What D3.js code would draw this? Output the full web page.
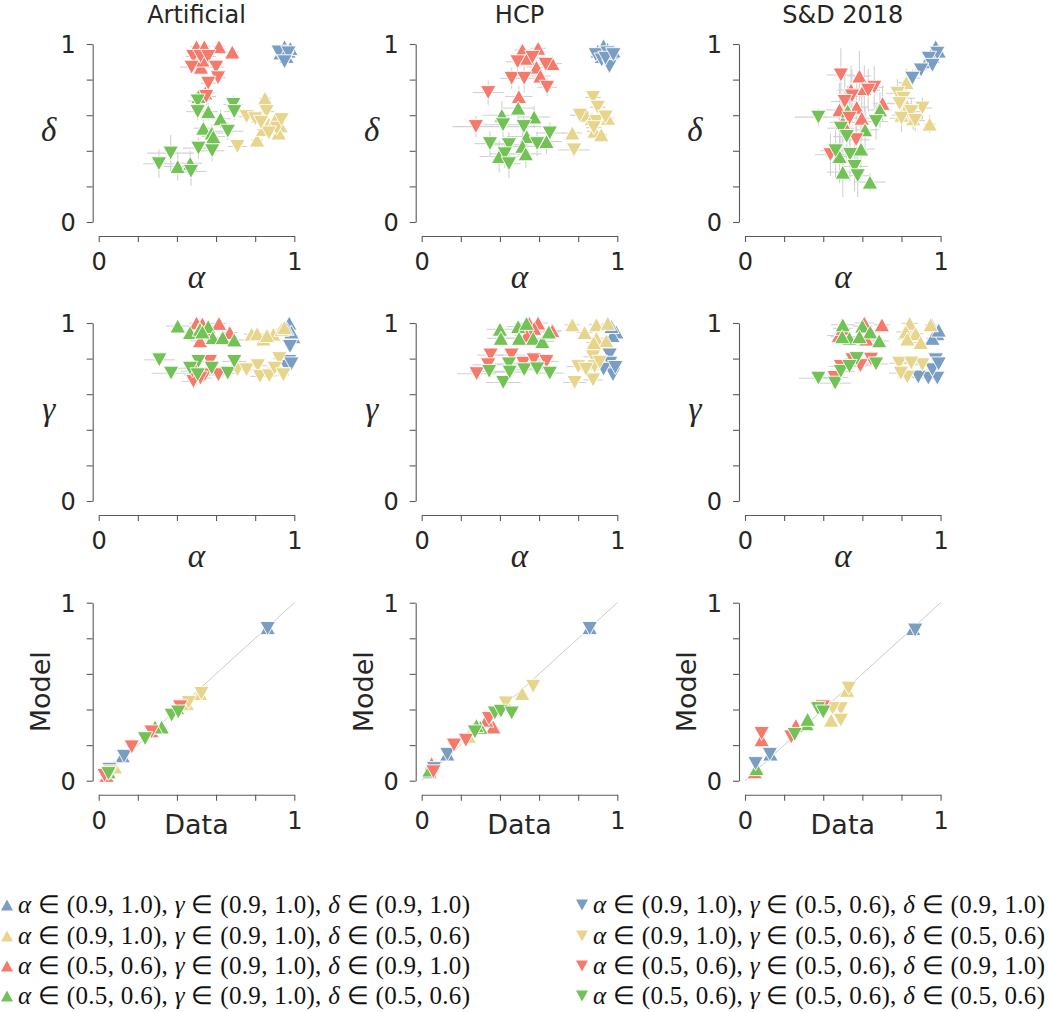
<!DOCTYPE html>
<html><head><meta charset="utf-8">
<script src="https://cdn.jsdelivr.net/npm/d3@7"></script>
<style>body{margin:0;background:#fff}</style>
</head><body>
<script>
// ---------- data ----------
const columnTitles = ["Artificial", "HCP", "S&D 2018"];
const rowXLabels = ["α", "α", "Data"];
const rowYLabels = ["δ", "γ", "Model"];
const tickValues = [0, 0.2, 0.4, 0.6, 0.8, 1];
const tickLabels = ["0", "", "", "", "", "1"];
// groups: 0 blue▲ 1 yellow▲ 2 red▲ 3 green▲ 4 blue▼ 5 yellow▼ 6 red▼ 7 green▼
const groupColors = ["#7a9ec3", "#e8d58c", "#f57a6b", "#72c255", "#7a9ec3", "#e8d58c", "#f57a6b", "#72c255"];
const groupShapes = ["up", "up", "up", "up", "down", "down", "down", "down"];
const legendLabels = [
  "α ∈ (0.9, 1.0), γ ∈ (0.9, 1.0), δ ∈ (0.9, 1.0)",
  "α ∈ (0.9, 1.0), γ ∈ (0.9, 1.0), δ ∈ (0.5, 0.6)",
  "α ∈ (0.5, 0.6), γ ∈ (0.9, 1.0), δ ∈ (0.9, 1.0)",
  "α ∈ (0.5, 0.6), γ ∈ (0.9, 1.0), δ ∈ (0.5, 0.6)",
  "α ∈ (0.9, 1.0), γ ∈ (0.5, 0.6), δ ∈ (0.9, 1.0)",
  "α ∈ (0.9, 1.0), γ ∈ (0.5, 0.6), δ ∈ (0.5, 0.6)",
  "α ∈ (0.5, 0.6), γ ∈ (0.5, 0.6), δ ∈ (0.9, 1.0)",
  "α ∈ (0.5, 0.6), γ ∈ (0.5, 0.6), δ ∈ (0.5, 0.6)"
];

// rows: [group, x, y, xerr, yerr]
const artificialDelta = [
  [0,0.95,0.985,0.01,0.01],[0,0.97,0.96,0.01,0.01],[0,0.93,0.95,0.01,0.01],[0,0.96,0.93,0.01,0.01],[0,0.98,0.975,0.01,0.01],
  [1,0.85,0.695,0.03,0.03],[1,0.81,0.46,0.03,0.03],[1,0.87,0.55,0.03,0.03],[1,0.90,0.57,0.03,0.02],[1,0.93,0.54,0.02,0.02],[1,0.84,0.52,0.03,0.03],[1,0.92,0.50,0.02,0.02],
  [2,0.50,0.985,0.03,0.02],[2,0.54,0.985,0.03,0.02],[2,0.615,0.985,0.03,0.02],[2,0.683,0.955,0.03,0.02],[2,0.523,0.87,0.05,0.03],[2,0.53,0.91,0.04,0.03],[2,0.545,0.725,0.05,0.04],
  [3,0.51,0.705,0.04,0.04],[3,0.56,0.62,0.05,0.05],[3,0.623,0.58,0.05,0.05],[3,0.535,0.527,0.05,0.05],[3,0.578,0.50,0.06,0.05],[3,0.586,0.48,0.06,0.05],[3,0.404,0.312,0.07,0.08],[3,0.468,0.33,0.06,0.07],
  [4,0.94,0.94,0.01,0.01],[4,0.96,0.92,0.01,0.01],[4,0.92,0.955,0.01,0.01],[4,0.97,0.95,0.01,0.01],[4,0.95,0.90,0.01,0.01],
  [5,0.756,0.592,0.04,0.03],[5,0.858,0.62,0.04,0.03],[5,0.709,0.424,0.05,0.03],[5,0.91,0.527,0.03,0.03],[5,0.80,0.58,0.04,0.03],[5,0.87,0.50,0.04,0.03],[5,0.935,0.575,0.02,0.02],[5,0.83,0.56,0.05,0.03],
  [6,0.484,0.93,0.04,0.03],[6,0.52,0.93,0.04,0.03],[6,0.56,0.93,0.04,0.03],[6,0.475,0.87,0.06,0.03],[6,0.60,0.87,0.04,0.03],[6,0.61,0.81,0.04,0.04],[6,0.56,0.78,0.04,0.04],[6,0.55,0.705,0.05,0.05],
  [7,0.506,0.68,0.05,0.05],[7,0.506,0.62,0.06,0.05],[7,0.688,0.66,0.05,0.05],[7,0.693,0.62,0.05,0.05],[7,0.66,0.51,0.08,0.05],[7,0.51,0.415,0.08,0.06],[7,0.58,0.40,0.06,0.06],[7,0.368,0.387,0.12,0.1],[7,0.308,0.327,0.08,0.08],[7,0.472,0.284,0.08,0.08]
];
const hcpDelta = [
  [0,0.90,0.96,0.01,0.01],[0,0.93,0.99,0.01,0.01],[0,0.95,0.97,0.01,0.01],[0,0.97,0.95,0.01,0.01],[0,0.92,0.93,0.01,0.01],[0,0.98,0.96,0.01,0.01],
  [1,0.842,0.60,0.04,0.04],[1,0.952,0.583,0.03,0.03],[1,0.884,0.51,0.04,0.03],[1,0.918,0.49,0.03,0.03],[1,0.77,0.50,0.05,0.04],[1,0.87,0.58,0.04,0.03],
  [2,0.515,0.966,0.04,0.03],[2,0.595,0.976,0.04,0.03],[2,0.54,0.92,0.04,0.04],[2,0.587,0.87,0.05,0.04],[2,0.668,0.89,0.05,0.04],[2,0.607,0.82,0.05,0.05],[2,0.497,0.705,0.07,0.06],
  [3,0.493,0.64,0.08,0.07],[3,0.41,0.60,0.1,0.08],[3,0.575,0.59,0.08,0.06],[3,0.537,0.48,0.1,0.07],[3,0.638,0.452,0.08,0.07],[3,0.515,0.425,0.09,0.08],[3,0.532,0.383,0.08,0.08],[3,0.396,0.368,0.1,0.09],
  [4,0.89,0.94,0.01,0.01],[4,0.92,0.91,0.01,0.01],[4,0.95,0.95,0.01,0.01],[4,0.96,0.873,0.01,0.02],[4,0.94,0.92,0.01,0.01],[4,0.98,0.94,0.01,0.01],
  [5,0.876,0.70,0.04,0.04],[5,0.90,0.645,0.04,0.04],[5,0.808,0.60,0.05,0.04],[5,0.893,0.565,0.04,0.04],[5,0.94,0.59,0.03,0.03],[5,0.779,0.405,0.08,0.04],[5,0.88,0.53,0.04,0.04],
  [6,0.566,0.925,0.05,0.04],[6,0.49,0.90,0.06,0.05],[6,0.634,0.886,0.05,0.04],[6,0.46,0.807,0.06,0.06],[6,0.524,0.807,0.06,0.08],[6,0.641,0.757,0.05,0.05],[6,0.34,0.727,0.08,0.07],[6,0.277,0.536,0.12,0.06],
  [7,0.416,0.546,0.1,0.07],[7,0.522,0.536,0.09,0.07],[7,0.655,0.50,0.07,0.06],[7,0.59,0.44,0.08,0.07],[7,0.349,0.44,0.08,0.07],[7,0.446,0.434,0.09,0.07],[7,0.425,0.383,0.08,0.08],[7,0.446,0.327,0.06,0.08]
];
const sdDelta = [
  [0,0.975,0.985,0.02,0.02],[0,0.93,0.90,0.02,0.03],[0,0.96,0.93,0.02,0.03],[0,0.99,0.96,0.01,0.02],
  [1,0.825,0.783,0.04,0.08],[1,0.83,0.65,0.05,0.06],[1,0.86,0.58,0.05,0.06],[1,0.944,0.55,0.03,0.05],[1,0.80,0.60,0.05,0.06],
  [2,0.585,0.82,0.06,0.14],[2,0.542,0.742,0.07,0.14],[2,0.61,0.75,0.06,0.13],[2,0.703,0.667,0.05,0.1],[2,0.483,0.63,0.07,0.15],[2,0.571,0.645,0.06,0.14],[2,0.597,0.583,0.06,0.12],[2,0.50,0.56,0.07,0.14],
  [3,0.525,0.624,0.06,0.14],[3,0.69,0.63,0.06,0.1],[3,0.614,0.518,0.07,0.13],[3,0.593,0.41,0.07,0.14],[3,0.483,0.368,0.07,0.15],[3,0.50,0.28,0.08,0.14],[3,0.639,0.224,0.08,0.05],
  [4,0.983,0.948,0.02,0.03],[4,0.94,0.92,0.02,0.03],[4,0.958,0.88,0.02,0.03],[4,0.90,0.854,0.03,0.04],[4,0.856,0.808,0.04,0.05],
  [5,0.78,0.723,0.06,0.08],[5,0.81,0.695,0.06,0.1],[5,0.79,0.665,0.06,0.08],[5,0.907,0.64,0.05,0.06],[5,0.80,0.583,0.06,0.08],[5,0.85,0.62,0.05,0.08],[5,0.87,0.57,0.05,0.06],
  [6,0.49,0.826,0.07,0.15],[6,0.661,0.757,0.05,0.12],[6,0.547,0.708,0.06,0.15],[6,0.51,0.677,0.07,0.16],[6,0.534,0.583,0.06,0.15],[6,0.568,0.462,0.07,0.16],[6,0.437,0.378,0.08,0.12],[6,0.63,0.74,0.06,0.12],
  [7,0.375,0.589,0.12,0.05],[7,0.67,0.564,0.06,0.1],[7,0.49,0.527,0.07,0.15],[7,0.52,0.48,0.07,0.15],[7,0.463,0.40,0.08,0.15],[7,0.537,0.38,0.07,0.15],[7,0.56,0.312,0.07,0.14],[7,0.576,0.26,0.06,0.12]
];
const artificialGamma = [
  [0,0.974,1.0,0.01,0.01],[0,0.995,0.923,0.01,0.01],[0,0.985,0.95,0.01,0.01],[0,0.96,0.97,0.01,0.01],
  [1,0.782,0.937,0.04,0.01],[1,0.842,0.91,0.04,0.01],[1,0.893,0.937,0.04,0.01],[1,0.935,0.965,0.03,0.01],[1,0.81,0.94,0.04,0.01],[1,0.95,0.975,0.02,0.01],[1,0.86,0.93,0.04,0.01],
  [2,0.50,1.0,0.04,0.01],[2,0.53,0.995,0.04,0.01],[2,0.615,0.998,0.04,0.01],[2,0.67,0.946,0.04,0.01],[2,0.518,0.9,0.05,0.01],[2,0.56,0.96,0.04,0.01],
  [3,0.404,0.983,0.06,0.01],[3,0.467,0.946,0.05,0.01],[3,0.518,0.965,0.05,0.01],[3,0.56,0.98,0.05,0.01],[3,0.583,0.918,0.05,0.01],[3,0.634,0.918,0.05,0.01],[3,0.693,0.905,0.05,0.01],[3,0.53,0.95,0.05,0.01],
  [4,0.978,0.868,0.01,0.01],[4,0.974,0.784,0.01,0.01],[4,0.96,0.755,0.02,0.01],[4,0.944,0.709,0.02,0.01],[4,0.985,0.77,0.01,0.01],
  [5,0.71,0.737,0.05,0.01],[5,0.756,0.737,0.05,0.01],[5,0.813,0.76,0.05,0.01],[5,0.825,0.70,0.05,0.01],[5,0.872,0.703,0.04,0.01],[5,0.923,0.80,0.03,0.01],[5,0.90,0.746,0.04,0.01],[5,0.944,0.709,0.03,0.01],
  [6,0.484,0.672,0.06,0.01],[6,0.569,0.784,0.05,0.01],[6,0.612,0.709,0.05,0.01],[6,0.543,0.709,0.05,0.01],[6,0.48,0.73,0.06,0.01],[6,0.52,0.69,0.06,0.01],
  [7,0.31,0.793,0.08,0.01],[7,0.37,0.718,0.1,0.01],[7,0.51,0.784,0.06,0.01],[7,0.467,0.746,0.08,0.01],[7,0.506,0.709,0.07,0.01],[7,0.578,0.746,0.06,0.01],[7,0.66,0.718,0.06,0.01],[7,0.693,0.784,0.06,0.01]
];
const hcpGamma = [
  [0,0.95,1.0,0.01,0.01],[0,0.995,0.95,0.01,0.01],[0,0.975,0.93,0.01,0.01],[0,0.97,0.98,0.01,0.01],
  [1,0.77,0.99,0.04,0.01],[1,0.833,0.946,0.04,0.01],[1,0.893,0.99,0.04,0.01],[1,0.952,0.998,0.03,0.01],[1,0.893,0.914,0.04,0.01],[1,0.944,0.9,0.03,0.01],[1,0.88,0.89,0.04,0.01],
  [2,0.55,0.998,0.05,0.01],[2,0.595,1.0,0.05,0.01],[2,0.575,0.97,0.05,0.01],[2,0.668,0.957,0.05,0.01],[2,0.536,0.93,0.06,0.01],
  [3,0.40,0.965,0.07,0.01],[3,0.405,0.914,0.07,0.01],[3,0.493,0.98,0.06,0.01],[3,0.498,0.914,0.07,0.01],[3,0.536,0.998,0.06,0.01],[3,0.57,0.914,0.07,0.01],[3,0.617,0.896,0.06,0.01],[3,0.65,0.95,0.06,0.01],
  [4,0.961,0.82,0.02,0.01],[4,0.964,0.774,0.02,0.01],[4,0.978,0.709,0.02,0.01],[4,0.93,0.74,0.03,0.01],[4,0.99,0.75,0.01,0.01],
  [5,0.80,0.755,0.06,0.01],[5,0.782,0.666,0.06,0.01],[5,0.876,0.81,0.05,0.01],[5,0.884,0.755,0.05,0.01],[5,0.876,0.68,0.05,0.01],[5,0.84,0.74,0.05,0.01],[5,0.91,0.78,0.04,0.01],
  [6,0.352,0.82,0.07,0.01],[6,0.459,0.82,0.07,0.01],[6,0.34,0.765,0.08,0.01],[6,0.281,0.715,0.1,0.01],[6,0.519,0.774,0.07,0.01],[6,0.573,0.793,0.07,0.01],[6,0.638,0.784,0.06,0.01],
  [7,0.345,0.728,0.1,0.01],[7,0.417,0.666,0.09,0.01],[7,0.446,0.77,0.08,0.01],[7,0.45,0.724,0.09,0.01],[7,0.524,0.737,0.08,0.01],[7,0.59,0.742,0.07,0.01],[7,0.655,0.718,0.07,0.01]
];
const sdGamma = [
  [0,0.955,0.99,0.02,0.01],[0,0.983,0.94,0.02,0.01],[0,0.958,0.914,0.03,0.01],[0,0.99,0.96,0.01,0.01],
  [1,0.842,0.998,0.04,0.01],[1,0.822,0.95,0.05,0.01],[1,0.873,0.94,0.04,0.01],[1,0.898,0.89,0.04,0.01],[1,0.949,0.99,0.03,0.01],[1,0.83,0.91,0.05,0.01],
  [2,0.61,1.0,0.05,0.01],[2,0.70,0.99,0.04,0.01],[2,0.48,0.93,0.06,0.01],[2,0.62,0.91,0.05,0.01],[2,0.50,0.97,0.05,0.01],
  [3,0.50,0.99,0.06,0.01],[3,0.534,0.914,0.06,0.01],[3,0.497,0.923,0.06,0.01],[3,0.60,0.983,0.05,0.01],[3,0.64,0.95,0.05,0.01],[3,0.585,0.923,0.05,0.01],[3,0.686,0.9,0.05,0.01],
  [4,0.975,0.793,0.02,0.01],[4,0.937,0.69,0.03,0.01],[4,0.886,0.696,0.04,0.01],[4,0.983,0.69,0.02,0.01],[4,0.958,0.737,0.03,0.01],[4,0.99,0.77,0.01,0.01],
  [5,0.788,0.774,0.05,0.01],[5,0.83,0.696,0.05,0.01],[5,0.907,0.765,0.04,0.01],[5,0.797,0.718,0.06,0.01],[5,0.85,0.775,0.05,0.01],
  [6,0.55,0.793,0.06,0.01],[6,0.644,0.797,0.05,0.01],[6,0.458,0.694,0.07,0.01],[6,0.49,0.756,0.06,0.01],[6,0.59,0.76,0.06,0.01],
  [7,0.375,0.69,0.1,0.01],[7,0.461,0.662,0.08,0.01],[7,0.49,0.728,0.07,0.01],[7,0.571,0.80,0.06,0.01],[7,0.67,0.77,0.06,0.01],[7,0.534,0.756,0.06,0.01]
];
// rows: [group, data, model]
const artificialFit = [
  [0,0.864,0.86],[0,0.08,0.08],[0,0.123,0.14],
  [1,0.518,0.49],[1,0.083,0.077],[1,0.45,0.433],
  [2,0.27,0.28],[2,0.40,0.41],[2,0.04,0.03],
  [3,0.322,0.302],[3,0.288,0.302],[3,0.05,0.05],
  [4,0.864,0.855],[4,0.055,0.064],[4,0.13,0.137],
  [5,0.525,0.49],[5,0.46,0.44],[5,0.06,0.05],
  [6,0.169,0.19],[6,0.27,0.274],[6,0.416,0.415],[6,0.03,0.03],
  [7,0.237,0.236],[7,0.373,0.368],[7,0.407,0.386],[7,0.05,0.04]
];
const hcpFit = [
  [0,0.859,0.86],[0,0.131,0.15],[0,0.04,0.05],
  [1,0.514,0.49],[1,0.43,0.44],[1,0.24,0.25],
  [2,0.051,0.096],[2,0.366,0.302],[2,0.33,0.34],
  [3,0.30,0.30],[3,0.04,0.06],[3,0.28,0.31],
  [4,0.859,0.855],[4,0.063,0.068],[4,0.131,0.148],
  [5,0.57,0.53],[5,0.43,0.437],
  [6,0.165,0.2],[6,0.226,0.227],[6,0.344,0.349],[6,0.06,0.05],
  [7,0.272,0.274],[7,0.374,0.38],[7,0.405,0.39],[7,0.46,0.38]
];
const sdFit = [
  [0,0.86,0.855],[0,0.13,0.15],
  [1,0.522,0.508],[1,0.44,0.34],
  [2,0.085,0.23],[2,0.26,0.31],[2,0.05,0.05],
  [3,0.314,0.32],[3,0.32,0.345],[3,0.059,0.068],
  [4,0.87,0.846],[4,0.054,0.096],[4,0.127,0.148],
  [5,0.53,0.52],[5,0.49,0.405],[5,0.449,0.405],[5,0.49,0.34],
  [6,0.085,0.265],[6,0.237,0.246],[6,0.398,0.415],
  [7,0.254,0.26],[7,0.373,0.405],[7,0.40,0.386]
];
const panelData = [
  [artificialDelta, hcpDelta, sdDelta],
  [artificialGamma, hcpGamma, sdGamma],
  [artificialFit, hcpFit, sdFit]
];

// ---------- layout ----------
const W = 1050, H = 1012;
const colX = [98.7, 421.7, 745];
const rowY = [44, 323, 602.7];
const pw = 195.6, ph = 178;
const axisOffset = 6;
const textColor = "#262626";
const spineColor = "#5a5a5a";

const svg = d3.select("body").append("svg").attr("width", W).attr("height", H)
  .style("font-family", "'DejaVu Sans', sans-serif");

function triPath(shape, w, h) {
  const hw = w / 2, hh = h / 2;
  return shape === "up"
    ? `M0,${-hh}L${hw},${hh}L${-hw},${hh}Z`
    : `M0,${hh}L${hw},${-hh}L${-hw},${-hh}Z`;
}

for (let r = 0; r < 3; r++) {
  for (let c = 0; c < 3; c++) {
    const x = d3.scaleLinear().domain([0, 1]).range([colX[c], colX[c] + pw]);
    const y = d3.scaleLinear().domain([0, 1]).range([rowY[r] + ph, rowY[r]]);
    const g = svg.append("g");

    // y axis
    const ya = g.append("g").attr("transform", `translate(${colX[c] - axisOffset},0)`)
      .call(d3.axisLeft(y).tickValues(tickValues).tickFormat((d, i) => tickLabels[i]).tickSize(6).tickSizeOuter(0).tickPadding(11));
    // x axis
    const xa = g.append("g").attr("transform", `translate(0,${rowY[r] + ph + 14})`)
      .call(d3.axisBottom(x).tickValues(tickValues).tickFormat((d, i) => tickLabels[i]).tickSize(6).tickSizeOuter(0).tickPadding(11));
    [ya, xa].forEach(a => {
      a.select(".domain").attr("stroke", spineColor).attr("stroke-width", 1.1);
      a.selectAll(".tick line").attr("stroke", spineColor).attr("stroke-width", 1.1);
      a.selectAll(".tick text").attr("fill", textColor).style("font-size", "24px").style("font-family", "'DejaVu Sans', sans-serif");
    });
    ya.selectAll(".tick text").attr("dy", "0.36em");

    // axis labels
    if (r < 2) {
      g.append("text").attr("x", x(0.5)).attr("y", rowY[r] + ph + 66)
        .attr("text-anchor", "middle").attr("fill", textColor)
        .style("font-family", "'Liberation Serif', serif").style("font-style", "italic").style("font-size", "33px")
        .text(rowXLabels[r]);
      g.append("text").attr("x", colX[c] - 50).attr("y", y(0.5) + 8)
        .attr("text-anchor", "middle").attr("fill", textColor)
        .style("font-family", "'Liberation Serif', serif").style("font-style", "italic").style("font-size", "33px")
        .text(rowYLabels[r]);
    } else {
      g.append("text").attr("x", x(0.5)).attr("y", rowY[r] + ph + 53)
        .attr("text-anchor", "middle").attr("fill", textColor).style("font-size", "27px")
        .text(rowXLabels[r]);
      g.append("text").attr("transform", `translate(${colX[c] - 49},${y(0.5)}) rotate(-90)`)
        .attr("text-anchor", "middle").attr("fill", textColor).style("font-size", "27px")
        .text(rowYLabels[r]);
      // identity line
      g.append("line").attr("x1", x(0)).attr("y1", y(0)).attr("x2", x(1)).attr("y2", y(1))
        .attr("stroke", "#cccccc").attr("stroke-width", 1);
    }
    if (r === 0) {
      g.append("text").attr("x", x(0.5)).attr("y", 23).attr("text-anchor", "middle")
        .attr("fill", textColor).style("font-size", "24px").text(columnTitles[c]);
    }

    const data = panelData[r][c];
    // error bars
    if (r < 2) {
      const eb = g.append("g").attr("stroke", "#cfd2d4").attr("stroke-width", 1.1);
      eb.selectAll("line.h").data(data).join("line")
        .attr("x1", d => x(d[1] - d[3])).attr("x2", d => x(d[1] + d[3]))
        .attr("y1", d => y(d[2])).attr("y2", d => y(d[2]));
      eb.selectAll("line.v").data(data).join("line").attr("class", "v")
        .attr("x1", d => x(d[1])).attr("x2", d => x(d[1]))
        .attr("y1", d => y(d[2] - d[4])).attr("y2", d => y(d[2] + d[4]));
    }
    // markers
    g.append("g").selectAll("path").data(data).join("path")
      .attr("transform", d => `translate(${x(d[1])},${y(d[2])})`)
      .attr("d", d => triPath(groupShapes[d[0]], 15.5, 14))
      .attr("fill", d => groupColors[d[0]])
      .attr("stroke", "#ffffff").attr("stroke-width", 0.9);
  }
}

// ---------- legend ----------
const legendCols = [{mx: 7, tx: 18}, {mx: 582, tx: 593}];
const legendRowY = [905, 936, 966, 996];
const leg = svg.append("g");
legendLabels.forEach((lab, i) => {
  const col = legendCols[Math.floor(i / 4)];
  const yy = legendRowY[i % 4];
  leg.append("path").attr("transform", `translate(${col.mx},${yy})`)
    .attr("d", triPath(groupShapes[i], 12, 11)).attr("fill", groupColors[i]);
  const t = leg.append("text").attr("x", col.tx).attr("y", yy + 8)
    .attr("fill", "#111").style("font-family", "'Liberation Serif', serif").style("font-size", "25px")
    .attr("textLength", 452).attr("lengthAdjust", "spacing");
  lab.split(/([αγδ])/).filter(s => s.length).forEach(s => {
    t.append("tspan").style("font-style", /[αγδ]/.test(s) ? "italic" : "normal").text(s);
  });
});
</script>
</body></html>
